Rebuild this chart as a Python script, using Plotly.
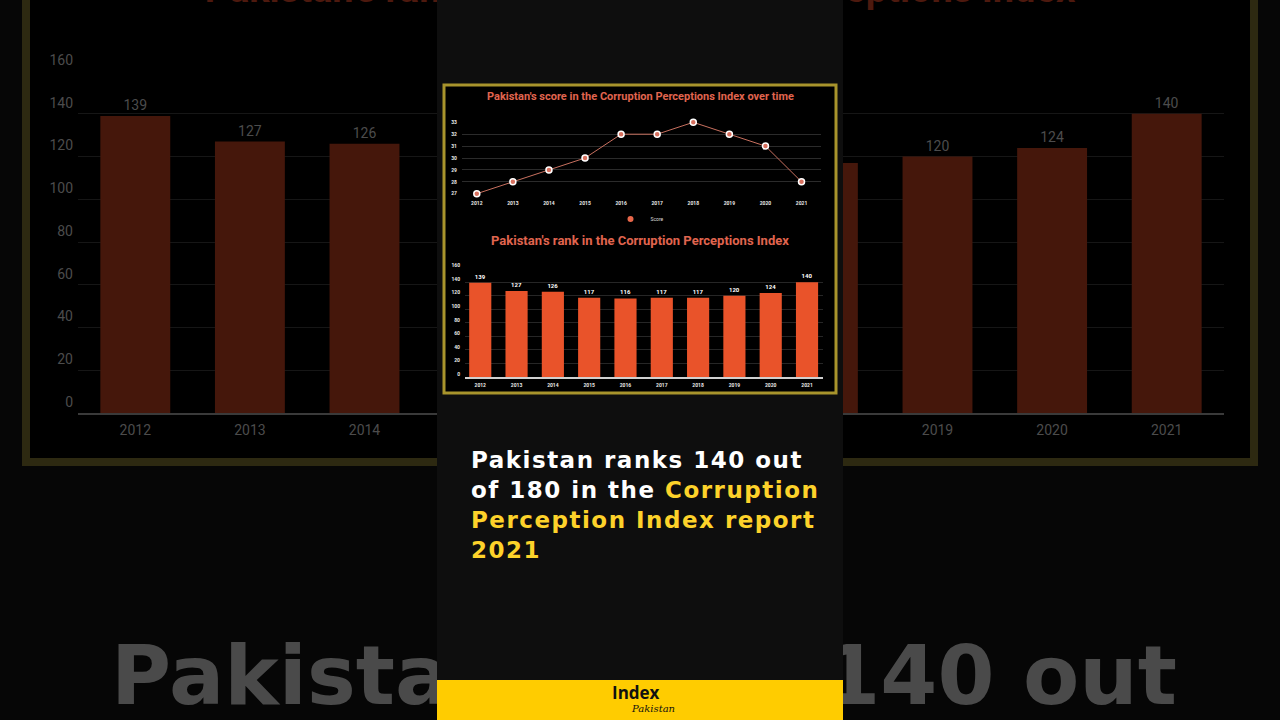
import plotly.graph_objects as go

# ---------------- data ----------------
years = ["2012", "2013", "2014", "2015", "2016", "2017", "2018", "2019", "2020", "2021"]
score = [27, 28, 29, 30, 32, 32, 33, 32, 31, 28]
rank = [139, 127, 126, 117, 116, 117, 117, 120, 124, 140]
score_ticks = [27, 28, 29, 30, 31, 32, 33]
rank_ticks = [0, 20, 40, 60, 80, 100, 120, 140, 160]

title_score = "Pakistan's score in the Corruption Perceptions Index over time"
title_rank = "Pakistan's rank in the Corruption Perceptions Index"
headline_white_1 = "Pakistan ranks 140 out"
headline_white_2 = "of 180 in the "
headline_yellow = ["Corruption", "Perception Index report", "2021"]
bg_headline = "Pakistan ranks 140 out"

W, H = 1280, 720


def fx(p):
    return p / W


def fy(p):
    return 1 - p / H


fig = go.Figure()

# ---------- blurred background copy of the rank chart ----------
fig.add_trace(go.Bar(
    x=years, y=rank, xaxis="x", yaxis="y",
    marker=dict(color="#45170b", line=dict(width=0)),
    text=rank, textposition="outside", cliponaxis=False,
    textfont=dict(color="#4c4c4c", size=14, family="Roboto"),
    showlegend=False, hoverinfo="skip",
))

# ---------- background decoration text (clipped by panel) ----------
fig.add_trace(go.Scatter(
    x=[644], y=[683], xaxis="x2", yaxis="y2", mode="text",
    text=[bg_headline], cliponaxis=True,
    textfont=dict(family="DejaVu Sans", size=82, color="#4a4a4a", weight=700),
    showlegend=False, hoverinfo="skip",
))
fig.add_trace(go.Scatter(
    x=[640], y=[-8], xaxis="x2", yaxis="y2", mode="text",
    text=[title_rank], cliponaxis=True,
    textfont=dict(family="Roboto", size=38, color="#4e190e", weight=700),
    showlegend=False, hoverinfo="skip",
))

# ---------- panel subplot (dummy trace to make it exist) ----------
fig.add_trace(go.Scatter(
    x=[None], y=[None], xaxis="x3", yaxis="y3", mode="markers",
    showlegend=False, hoverinfo="skip",
))

# ---------- line chart: score ----------
fig.add_trace(go.Scatter(
    x=years, y=score, xaxis="x4", yaxis="y4", mode="lines+markers",
    line=dict(color="#c8705f", width=1),
    marker=dict(size=6, color="#d8705e", line=dict(color="#ffffff", width=1.5)),
    cliponaxis=False, showlegend=False, hoverinfo="skip",
))
fig.add_trace(go.Scatter(
    x=[None], y=[None], xaxis="x4", yaxis="y4", mode="markers", name="Score",
    marker=dict(size=6, color="#e8674a"), showlegend=True,
))

# ---------- bar chart: rank ----------
fig.add_trace(go.Bar(
    x=years, y=rank, xaxis="x5", yaxis="y5",
    marker=dict(color="#e9532a", line=dict(width=0)),
    text=rank, textposition="outside", cliponaxis=False,
    textfont=dict(color="#ffffff", size=6, family="Roboto", weight=700),
    showlegend=False, hoverinfo="skip",
))

hidden = dict(visible=False, range=[0, W], domain=[0, 1], fixedrange=True)
hidden_y = dict(visible=False, range=[H, 0], domain=[0, 1], fixedrange=True)

fig.update_layout(
    width=W, height=H,
    margin=dict(l=0, r=0, t=0, b=0, pad=0, autoexpand=False),
    paper_bgcolor="#060606", plot_bgcolor="rgba(0,0,0,0)",
    bargap=0.39,
    font=dict(family="Roboto"),
    xaxis=dict(domain=[fx(78), fx(1224)], range=[-0.5, 9.5], type="category",
               anchor="y", showgrid=False, showline=True, linecolor="#3a3a3a",
               linewidth=2, ticks="", tickfont=dict(color="#4c4c4c", size=14),
               ticklabelstandoff=3, automargin=False),
    yaxis=dict(domain=[fy(413), fy(71)], range=[0, 160], anchor="x",
               tickvals=rank_ticks, gridcolor="#161616", gridwidth=1,
               zeroline=False, showline=False, ticks="",
               tickfont=dict(color="#4c4c4c", size=14), ticklabelshift=-11,
               ticklabelstandoff=4, automargin=False),
    xaxis2=dict(hidden, anchor="y2"), yaxis2=dict(hidden_y, anchor="x2"),
    xaxis3=dict(hidden, anchor="y3"), yaxis3=dict(hidden_y, anchor="x3"),
    xaxis4=dict(domain=[fx(462), fx(821)], range=[-0.41, 9.54], type="category",
                anchor="y4", showgrid=False, showline=False, ticks="",
                tickfont=dict(color="#e8e8e8", size=5, weight=700),
                ticklabelstandoff=5, automargin=False),
    yaxis4=dict(domain=[fy(193.7), fy(122.3)], range=[27, 33], anchor="x4",
                tickvals=score_ticks, gridcolor="#2b2b2b", gridwidth=1,
                zeroline=False, showline=False, ticks="",
                tickfont=dict(color="#e8e8e8", size=5, weight=700),
                ticklabelstandoff=4, automargin=False),
    xaxis5=dict(domain=[fx(465), fx(823)], range=[-0.42, 9.44], type="category",
                anchor="y5", showgrid=False, showline=True, linecolor="#d0d0d0",
                linewidth=1.5, ticks="",
                tickfont=dict(color="#e8e8e8", size=5, weight=700),
                ticklabelstandoff=2, automargin=False),
    yaxis5=dict(domain=[fy(377), fy(268.6)], range=[0, 160], anchor="x5",
                tickvals=rank_ticks, gridcolor="#262626", gridwidth=1,
                zeroline=False, showline=False, ticks="",
                tickfont=dict(color="#e8e8e8", size=5, weight=700),
                ticklabelshift=-3, ticklabelstandoff=4, automargin=False),
    legend=dict(orientation="h", x=0.5, xanchor="center", y=fy(219), yanchor="middle",
                font=dict(color="#dddddd", size=5), bgcolor="rgba(0,0,0,0)",
                itemwidth=30),
)

shapes = [
    # background frame of the blurred chart (paper, below everything)
    dict(type="rect", xref="paper", yref="paper", layer="below",
         x0=fx(26), x1=fx(1254), y0=fy(462), y1=fy(-20),
         line=dict(color="#2d2911", width=8), fillcolor="#000000"),
    # center panel
    dict(type="rect", xref="x3", yref="y3", layer="below",
         x0=437, x1=843, y0=0, y1=720, line=dict(width=0), fillcolor="#0e0e0e"),
    # yellow band
    dict(type="rect", xref="x3", yref="y3", layer="below",
         x0=437, x1=843, y0=680, y1=720, line=dict(width=0), fillcolor="#ffcc00"),
    # gold frame around charts
    dict(type="rect", xref="x3", yref="y3", layer="below",
         x0=444, x1=836, y0=85, y1=393, line=dict(color="#a8942c", width=3),
         fillcolor="#000000"),
]
fig.update_layout(shapes=shapes)

sp = "letter-spacing:1.5px"
head = (f"<span style='{sp}'>{headline_white_1}</span><br>"
        f"<span style='{sp}'>{headline_white_2}</span>"
        f"<span style='color:#fdd22a;{sp}'>{headline_yellow[0]}</span><br>"
        f"<span style='color:#fdd22a;{sp}'>{headline_yellow[1]}</span><br>"
        f"<span style='color:#fdd22a;{sp}'>{headline_yellow[2]}</span>")

annotations = [
    dict(text=f"<b>{title_score}</b>", x=fx(640), y=fy(97), xref="paper", yref="paper",
         xanchor="center", yanchor="middle", showarrow=False,
         font=dict(color="#e0654f", size=11, family="Roboto")),
    dict(text=f"<b>{title_rank}</b>", x=fx(640), y=fy(241), xref="paper", yref="paper",
         xanchor="center", yanchor="middle", showarrow=False,
         font=dict(color="#e0654f", size=13, family="Roboto")),
    dict(text=head, x=fx(469), y=fy(505), xref="paper", yref="paper",
         xanchor="left", yanchor="middle", align="left", showarrow=False,
         font=dict(color="#ffffff", size=23, family="DejaVu Sans", weight=700)),
    dict(text="Index", x=fx(636), y=fy(692), xref="paper", yref="paper",
         xanchor="center", yanchor="middle", showarrow=False,
         font=dict(color="#111111", size=17, family="Open Sans", weight=700)),
    dict(text="<i>Pakistan</i>", x=fx(653), y=fy(708), xref="paper", yref="paper",
         xanchor="center", yanchor="middle", showarrow=False,
         font=dict(color="#111111", size=10, family="DejaVu Serif")),
]
fig.update_layout(annotations=annotations)

fig.write_html("out.html")
